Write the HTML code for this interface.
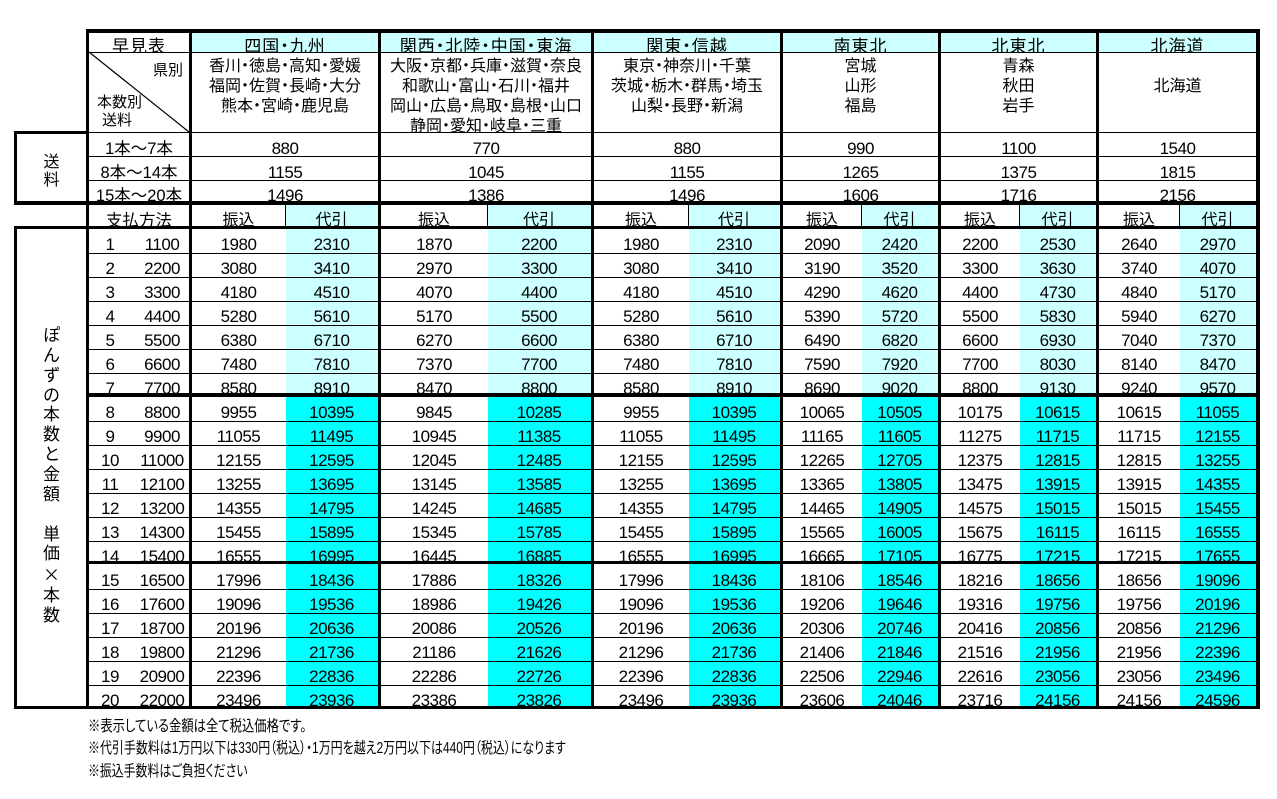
<!DOCTYPE html>
<html><head><meta charset="utf-8">
<style>
*{margin:0;padding:0;box-sizing:border-box}
html,body{width:1277px;height:799px;background:#fff;overflow:hidden}
body{position:relative;font-family:"Liberation Sans","Noto Sans CJK JP",sans-serif;color:#000}
.bg{position:absolute;z-index:0}
.lc{background:#ccffff}
.cy{background:#00ffff}
.h,.v{position:absolute;background:#000;z-index:5}
.r{position:absolute;left:0;width:1277px;overflow:hidden;line-height:32px;font-size:16px;z-index:1;white-space:nowrap}
.r span{position:absolute;top:0;text-align:center}
.n{font-size:17px;letter-spacing:-0.5px}
.jp{font-feature-settings:"palt"}
.i{left:95px;width:30px}
.m{left:132px;width:60px}
.L{left:89px;width:100px}
.a1{left:192px;width:93px}.b1{left:285px;width:93px}
.a2{left:381px;width:106px}.b2{left:487px;width:104px}
.a3{left:594px;width:94px}.b3{left:688px;width:92px}
.a4{left:783px;width:78px}.b4{left:861px;width:77px}
.a5{left:941px;width:78px}.b5{left:1019px;width:77px}
.a6{left:1099px;width:80px}.b6{left:1179px;width:77px}
.g1{left:192px;width:186px}.g2{left:381px;width:210px}.g3{left:594px;width:186px}
.g4{left:783px;width:155px}.g5{left:941px;width:155px}.g6{left:1099px;width:157px}
.lbl{position:absolute;text-align:center;z-index:1;font-feature-settings:"palt"}
.note{position:absolute;left:88px;font-size:15.5px;line-height:20px;white-space:nowrap;transform-origin:0 0;font-feature-settings:"palt"}
</style></head>
<body>
<!-- backgrounds -->
<div class="bg lc" style="left:192px;top:33px;width:1064px;height:19px"></div>
<div class="bg lc" style="left:286px;top:205px;width:92px;height:190px"></div>
<div class="bg lc" style="left:488px;top:205px;width:103px;height:190px"></div>
<div class="bg lc" style="left:689px;top:205px;width:91px;height:190px"></div>
<div class="bg lc" style="left:862px;top:205px;width:76px;height:190px"></div>
<div class="bg lc" style="left:1020px;top:205px;width:76px;height:190px"></div>
<div class="bg lc" style="left:1180px;top:205px;width:76px;height:190px"></div>
<div class="bg cy" style="left:286px;top:395px;width:92px;height:312px"></div>
<div class="bg cy" style="left:488px;top:395px;width:103px;height:312px"></div>
<div class="bg cy" style="left:689px;top:395px;width:91px;height:312px"></div>
<div class="bg cy" style="left:862px;top:395px;width:76px;height:312px"></div>
<div class="bg cy" style="left:1020px;top:395px;width:76px;height:312px"></div>
<div class="bg cy" style="left:1180px;top:395px;width:76px;height:312px"></div>

<!-- header row -->
<div class="r jp" style="top:33px;height:19px;line-height:27px;font-size:17px;letter-spacing:1px">
<span class="L">早見表</span><span class="g1">四国・九州</span><span class="g2">関西・北陸・中国・東海</span><span class="g3">関東・信越</span><span class="g4">南東北</span><span class="g5">北東北</span><span class="g6">北海道</span>
</div>
<!-- prefecture row -->
<div class="r jp" style="top:57px;height:75px;line-height:20px">
<span class="g1">香川・徳島・高知・愛媛<br>福岡・佐賀・長崎・大分<br>熊本・宮崎・鹿児島</span>
<span class="g2">大阪・京都・兵庫・滋賀・奈良<br>和歌山・富山・石川・福井<br>岡山・広島・鳥取・島根・山口<br>静岡・愛知・岐阜・三重</span>
<span class="g3">東京・神奈川・千葉<br>茨城・栃木・群馬・埼玉<br>山梨・長野・新潟</span>
<span class="g4">宮城<br>山形<br>福島</span>
<span class="g5">青森<br>秋田<br>岩手</span>
<span class="g6" style="top:20px">北海道</span>
</div>
<!-- diag cell labels -->
<div class="lbl" style="left:153px;top:61px;font-size:15px;line-height:20px;text-align:left">県別</div>
<div class="lbl" style="left:97px;top:93px;font-size:15px;line-height:20px;text-align:left">本数別</div>
<div class="lbl" style="left:102px;top:111px;font-size:15px;line-height:20px;text-align:left">送料</div>

<!-- fee rows -->
<div class="r" style="top:133px;height:23px"><span class="L" style="font-size:16.5px">1本～7本</span><span class="g1 n">880</span><span class="g2 n">770</span><span class="g3 n">880</span><span class="g4 n">990</span><span class="g5 n">1100</span><span class="g6 n">1540</span></div>
<div class="r" style="top:157px;height:23px"><span class="L" style="font-size:16.5px">8本～14本</span><span class="g1 n">1155</span><span class="g2 n">1045</span><span class="g3 n">1155</span><span class="g4 n">1265</span><span class="g5 n">1375</span><span class="g6 n">1815</span></div>
<div class="r" style="top:181px;height:20px;line-height:30px"><span class="L" style="font-size:16.5px">15本～20本</span><span class="g1 n">1496</span><span class="g2 n">1386</span><span class="g3 n">1496</span><span class="g4 n">1606</span><span class="g5 n">1716</span><span class="g6 n">2156</span></div>

<!-- payment row -->
<div class="r" style="top:205px;height:21px"><span class="L" style="font-size:16.5px">支払方法</span><span class="a1">振込</span><span class="b1">代引</span><span class="a2">振込</span><span class="b2">代引</span><span class="a3">振込</span><span class="b3">代引</span><span class="a4">振込</span><span class="b4">代引</span><span class="a5">振込</span><span class="b5">代引</span><span class="a6">振込</span><span class="b6">代引</span></div>

<!-- data rows -->
<div class="r n" style="top:229px;height:24px"><span class="i">1</span><span class="m">1100</span><span class="a1">1980</span><span class="b1">2310</span><span class="a2">1870</span><span class="b2">2200</span><span class="a3">1980</span><span class="b3">2310</span><span class="a4">2090</span><span class="b4">2420</span><span class="a5">2200</span><span class="b5">2530</span><span class="a6">2640</span><span class="b6">2970</span></div>
<div class="r n" style="top:253px;height:24px"><span class="i">2</span><span class="m">2200</span><span class="a1">3080</span><span class="b1">3410</span><span class="a2">2970</span><span class="b2">3300</span><span class="a3">3080</span><span class="b3">3410</span><span class="a4">3190</span><span class="b4">3520</span><span class="a5">3300</span><span class="b5">3630</span><span class="a6">3740</span><span class="b6">4070</span></div>
<div class="r n" style="top:277px;height:24px"><span class="i">3</span><span class="m">3300</span><span class="a1">4180</span><span class="b1">4510</span><span class="a2">4070</span><span class="b2">4400</span><span class="a3">4180</span><span class="b3">4510</span><span class="a4">4290</span><span class="b4">4620</span><span class="a5">4400</span><span class="b5">4730</span><span class="a6">4840</span><span class="b6">5170</span></div>
<div class="r n" style="top:301px;height:24px"><span class="i">4</span><span class="m">4400</span><span class="a1">5280</span><span class="b1">5610</span><span class="a2">5170</span><span class="b2">5500</span><span class="a3">5280</span><span class="b3">5610</span><span class="a4">5390</span><span class="b4">5720</span><span class="a5">5500</span><span class="b5">5830</span><span class="a6">5940</span><span class="b6">6270</span></div>
<div class="r n" style="top:325px;height:24px"><span class="i">5</span><span class="m">5500</span><span class="a1">6380</span><span class="b1">6710</span><span class="a2">6270</span><span class="b2">6600</span><span class="a3">6380</span><span class="b3">6710</span><span class="a4">6490</span><span class="b4">6820</span><span class="a5">6600</span><span class="b5">6930</span><span class="a6">7040</span><span class="b6">7370</span></div>
<div class="r n" style="top:349px;height:24px"><span class="i">6</span><span class="m">6600</span><span class="a1">7480</span><span class="b1">7810</span><span class="a2">7370</span><span class="b2">7700</span><span class="a3">7480</span><span class="b3">7810</span><span class="a4">7590</span><span class="b4">7920</span><span class="a5">7700</span><span class="b5">8030</span><span class="a6">8140</span><span class="b6">8470</span></div>
<div class="r n" style="top:373px;height:20px"><span class="i">7</span><span class="m">7700</span><span class="a1">8580</span><span class="b1">8910</span><span class="a2">8470</span><span class="b2">8800</span><span class="a3">8580</span><span class="b3">8910</span><span class="a4">8690</span><span class="b4">9020</span><span class="a5">8800</span><span class="b5">9130</span><span class="a6">9240</span><span class="b6">9570</span></div>
<div class="r n" style="top:397px;height:24px"><span class="i">8</span><span class="m">8800</span><span class="a1">9955</span><span class="b1">10395</span><span class="a2">9845</span><span class="b2">10285</span><span class="a3">9955</span><span class="b3">10395</span><span class="a4">10065</span><span class="b4">10505</span><span class="a5">10175</span><span class="b5">10615</span><span class="a6">10615</span><span class="b6">11055</span></div>
<div class="r n" style="top:421px;height:24px"><span class="i">9</span><span class="m">9900</span><span class="a1">11055</span><span class="b1">11495</span><span class="a2">10945</span><span class="b2">11385</span><span class="a3">11055</span><span class="b3">11495</span><span class="a4">11165</span><span class="b4">11605</span><span class="a5">11275</span><span class="b5">11715</span><span class="a6">11715</span><span class="b6">12155</span></div>
<div class="r n" style="top:445px;height:24px"><span class="i">10</span><span class="m">11000</span><span class="a1">12155</span><span class="b1">12595</span><span class="a2">12045</span><span class="b2">12485</span><span class="a3">12155</span><span class="b3">12595</span><span class="a4">12265</span><span class="b4">12705</span><span class="a5">12375</span><span class="b5">12815</span><span class="a6">12815</span><span class="b6">13255</span></div>
<div class="r n" style="top:469px;height:24px"><span class="i">11</span><span class="m">12100</span><span class="a1">13255</span><span class="b1">13695</span><span class="a2">13145</span><span class="b2">13585</span><span class="a3">13255</span><span class="b3">13695</span><span class="a4">13365</span><span class="b4">13805</span><span class="a5">13475</span><span class="b5">13915</span><span class="a6">13915</span><span class="b6">14355</span></div>
<div class="r n" style="top:493px;height:24px"><span class="i">12</span><span class="m">13200</span><span class="a1">14355</span><span class="b1">14795</span><span class="a2">14245</span><span class="b2">14685</span><span class="a3">14355</span><span class="b3">14795</span><span class="a4">14465</span><span class="b4">14905</span><span class="a5">14575</span><span class="b5">15015</span><span class="a6">15015</span><span class="b6">15455</span></div>
<div class="r n" style="top:517px;height:24px"><span class="i">13</span><span class="m">14300</span><span class="a1">15455</span><span class="b1">15895</span><span class="a2">15345</span><span class="b2">15785</span><span class="a3">15455</span><span class="b3">15895</span><span class="a4">15565</span><span class="b4">16005</span><span class="a5">15675</span><span class="b5">16115</span><span class="a6">16115</span><span class="b6">16555</span></div>
<div class="r n" style="top:541px;height:20px"><span class="i">14</span><span class="m">15400</span><span class="a1">16555</span><span class="b1">16995</span><span class="a2">16445</span><span class="b2">16885</span><span class="a3">16555</span><span class="b3">16995</span><span class="a4">16665</span><span class="b4">17105</span><span class="a5">16775</span><span class="b5">17215</span><span class="a6">17215</span><span class="b6">17655</span></div>
<div class="r n" style="top:565px;height:24px"><span class="i">15</span><span class="m">16500</span><span class="a1">17996</span><span class="b1">18436</span><span class="a2">17886</span><span class="b2">18326</span><span class="a3">17996</span><span class="b3">18436</span><span class="a4">18106</span><span class="b4">18546</span><span class="a5">18216</span><span class="b5">18656</span><span class="a6">18656</span><span class="b6">19096</span></div>
<div class="r n" style="top:589px;height:24px"><span class="i">16</span><span class="m">17600</span><span class="a1">19096</span><span class="b1">19536</span><span class="a2">18986</span><span class="b2">19426</span><span class="a3">19096</span><span class="b3">19536</span><span class="a4">19206</span><span class="b4">19646</span><span class="a5">19316</span><span class="b5">19756</span><span class="a6">19756</span><span class="b6">20196</span></div>
<div class="r n" style="top:613px;height:24px"><span class="i">17</span><span class="m">18700</span><span class="a1">20196</span><span class="b1">20636</span><span class="a2">20086</span><span class="b2">20526</span><span class="a3">20196</span><span class="b3">20636</span><span class="a4">20306</span><span class="b4">20746</span><span class="a5">20416</span><span class="b5">20856</span><span class="a6">20856</span><span class="b6">21296</span></div>
<div class="r n" style="top:637px;height:24px"><span class="i">18</span><span class="m">19800</span><span class="a1">21296</span><span class="b1">21736</span><span class="a2">21186</span><span class="b2">21626</span><span class="a3">21296</span><span class="b3">21736</span><span class="a4">21406</span><span class="b4">21846</span><span class="a5">21516</span><span class="b5">21956</span><span class="a6">21956</span><span class="b6">22396</span></div>
<div class="r n" style="top:661px;height:24px"><span class="i">19</span><span class="m">20900</span><span class="a1">22396</span><span class="b1">22836</span><span class="a2">22286</span><span class="b2">22726</span><span class="a3">22396</span><span class="b3">22836</span><span class="a4">22506</span><span class="b4">22946</span><span class="a5">22616</span><span class="b5">23056</span><span class="a6">23056</span><span class="b6">23496</span></div>
<div class="r n" style="top:685px;height:21px"><span class="i">20</span><span class="m">22000</span><span class="a1">23496</span><span class="b1">23936</span><span class="a2">23386</span><span class="b2">23826</span><span class="a3">23496</span><span class="b3">23936</span><span class="a4">23606</span><span class="b4">24046</span><span class="a5">23716</span><span class="b5">24156</span><span class="a6">24156</span><span class="b6">24596</span></div>

<!-- left labels -->
<div class="lbl" style="left:17px;top:153.5px;width:69px;font-size:16px;line-height:18px">送<br>料</div>
<div class="lbl" style="left:17px;top:326px;width:69px;font-size:17px;line-height:19.86px">ぽ<br>ん<br>ず<br>の<br>本<br>数<br>と<br>金<br>額<br>&nbsp;<br>単<br>価<br><span style="font-family:'Noto Sans CJK JP',sans-serif">×</span><br>本<br>数</div>

<!-- thin horizontal lines -->
<div class="h" style="left:89px;top:52px;width:1167px;height:1px"></div>
<div class="h" style="left:89px;top:132px;width:1167px;height:1px"></div>
<div class="h" style="left:89px;top:156px;width:1167px;height:1px"></div>
<div class="h" style="left:89px;top:180px;width:1167px;height:1px"></div>
<div class="h" style="left:89px;top:253px;width:1167px;height:1px"></div>
<div class="h" style="left:89px;top:277px;width:1167px;height:1px"></div>
<div class="h" style="left:89px;top:301px;width:1167px;height:1px"></div>
<div class="h" style="left:89px;top:325px;width:1167px;height:1px"></div>
<div class="h" style="left:89px;top:349px;width:1167px;height:1px"></div>
<div class="h" style="left:89px;top:373px;width:1167px;height:1px"></div>
<div class="h" style="left:89px;top:421px;width:1167px;height:1px"></div>
<div class="h" style="left:89px;top:445px;width:1167px;height:1px"></div>
<div class="h" style="left:89px;top:469px;width:1167px;height:1px"></div>
<div class="h" style="left:89px;top:493px;width:1167px;height:1px"></div>
<div class="h" style="left:89px;top:517px;width:1167px;height:1px"></div>
<div class="h" style="left:89px;top:541px;width:1167px;height:1px"></div>
<div class="h" style="left:89px;top:589px;width:1167px;height:1px"></div>
<div class="h" style="left:89px;top:613px;width:1167px;height:1px"></div>
<div class="h" style="left:89px;top:637px;width:1167px;height:1px"></div>
<div class="h" style="left:89px;top:661px;width:1167px;height:1px"></div>
<div class="h" style="left:89px;top:685px;width:1167px;height:1px"></div>
<!-- thin verticals in payment row -->
<div class="v" style="left:285px;top:205px;width:1px;height:21px"></div>
<div class="v" style="left:487px;top:205px;width:1px;height:21px"></div>
<div class="v" style="left:688px;top:205px;width:1px;height:21px"></div>
<div class="v" style="left:861px;top:205px;width:1px;height:21px"></div>
<div class="v" style="left:1019px;top:205px;width:1px;height:21px"></div>
<div class="v" style="left:1179px;top:205px;width:1px;height:21px"></div>

<!-- thick horizontal lines -->
<div class="h" style="left:86px;top:29px;width:1174px;height:4px"></div>
<div class="h" style="left:14px;top:131px;width:75px;height:3px"></div>
<div class="h" style="left:14px;top:201px;width:1246px;height:4px"></div>
<div class="h" style="left:14px;top:226px;width:1246px;height:3px"></div>
<div class="h" style="left:86px;top:393px;width:1174px;height:4px"></div>
<div class="h" style="left:86px;top:561px;width:1174px;height:3px"></div>
<div class="h" style="left:14px;top:706px;width:1246px;height:3px"></div>
<!-- thick verticals -->
<div class="v" style="left:14px;top:131px;width:3px;height:74px"></div>
<div class="v" style="left:14px;top:226px;width:3px;height:483px"></div>
<div class="v" style="left:86px;top:29px;width:3px;height:680px"></div>
<div class="v" style="left:189px;top:29px;width:3px;height:680px"></div>
<div class="v" style="left:378px;top:29px;width:3px;height:680px"></div>
<div class="v" style="left:591px;top:29px;width:3px;height:680px"></div>
<div class="v" style="left:780px;top:29px;width:3px;height:680px"></div>
<div class="v" style="left:938px;top:29px;width:3px;height:680px"></div>
<div class="v" style="left:1096px;top:29px;width:3px;height:680px"></div>
<div class="v" style="left:1256px;top:29px;width:4px;height:680px"></div>

<svg style="position:absolute;left:0;top:0;z-index:6" width="1277" height="799"><line x1="89" y1="52" x2="189" y2="132" stroke="#000" stroke-width="1.2"/></svg>

<!-- notes -->
<div class="note" style="top:717px;transform:scaleX(0.795)">※表示している金額は全て税込価格です。</div>
<div class="note" style="top:739px;transform:scaleX(0.772)">※代引手数料は1万円以下は330円（税込）・1万円を越え2万円以下は440円（税込）になります</div>
<div class="note" style="top:762px;transform:scaleX(0.767)">※振込手数料はご負担ください</div>
</body></html>
